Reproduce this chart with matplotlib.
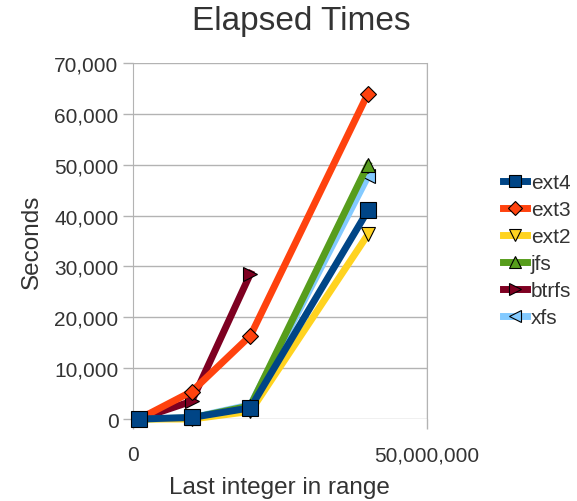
import matplotlib
matplotlib.use("Agg")
import matplotlib.pyplot as plt
from matplotlib.ticker import FuncFormatter

plt.rcParams["font.family"] = ["Liberation Sans", "DejaVu Sans"]

# data
X_VALUES = [1_000_000, 10_000_000, 20_000_000, 40_000_000]
SERIES = ["ext4", "ext3", "ext2", "jfs", "btrfs", "xfs"]
EXT4 = [0, 300, 2200, 41000]
EXT3 = [0, 5400, 16400, 64000]
EXT2 = [0, 0, 1500, 36300]
JFS = [0, 200, 2600, 50000]
BTRFS = [0, 3500, 28600]
XFS = [0, 250, 2800, 47700]

COLORS = {
    "ext4": "#004586",
    "ext3": "#ff420e",
    "ext2": "#ffd320",
    "jfs": "#579d1c",
    "btrfs": "#7e0021",
    "xfs": "#83caff",
}
MARKERS = {"ext4": "s", "ext3": "D", "ext2": "v", "jfs": "^", "btrfs": ">", "xfs": "<"}
MSIZE = {"ext4": 11, "ext3": 8.5, "ext2": 10, "jfs": 10, "btrfs": 10, "xfs": 10}
TEXT = "#333333"
GRID = "#b3b3b3"

values = {"ext4": EXT4, "ext3": EXT3, "ext2": EXT2, "jfs": JFS, "btrfs": BTRFS, "xfs": XFS}

fig = plt.figure(figsize=(5.77, 5.02), dpi=100)
ax = fig.add_axes([0.2305, 0.1633, 0.509, 0.7092])

handles = {}
n = len(SERIES)
for i, name in enumerate(SERIES):
    ys = values[name]
    (line,) = ax.plot(X_VALUES[:len(ys)], ys, color=COLORS[name], linewidth=5,
                      marker=MARKERS[name], markersize=MSIZE[name],
                      markerfacecolor=COLORS[name], markeredgecolor="black",
                      markeredgewidth=0.8, clip_on=False, zorder=3 + n - i,
                      label=name)
    handles[name] = line

ax.set_xlim(0, 50_000_000)
ax.set_ylim(0, 70_000)
ax.set_xticks([0, 50_000_000])
ax.set_yticks(range(0, 70_001, 10_000))
fmt = FuncFormatter(lambda v, _: f"{int(v):,}")
ax.xaxis.set_major_formatter(fmt)
ax.yaxis.set_major_formatter(fmt)

ax.grid(axis="y", color=GRID, linewidth=1)
for side in ["left", "right"]:
    ax.spines[side].set_color(GRID)
ax.spines["top"].set_visible(False)
ax.spines["bottom"].set_visible(False)
ax.axvline(50_000_000, color=GRID, linewidth=1, zorder=1)
ax.tick_params(axis="both", colors=GRID, labelcolor=TEXT, labelsize=15,
               length=7, width=1, direction="out")
ax.tick_params(axis="x", pad=12)

fig.text(0.523, 0.958, "Elapsed Times", fontsize=24, color=TEXT,
         ha="center", va="center")
ax.set_xlabel("Last integer in range", fontsize=17.5, color=TEXT, labelpad=8)
ax.set_ylabel("Seconds", fontsize=17.5, color=TEXT, labelpad=8)

fig.legend([handles[s] for s in SERIES], SERIES, loc="center left",
           bbox_to_anchor=(0.857, 0.5), frameon=False, fontsize=15,
           labelcolor=TEXT, handlelength=1.15, handletextpad=0.2,
           labelspacing=0.38, borderaxespad=0, markerscale=0.85)

fig.savefig("out.png", dpi=100, facecolor="white")
